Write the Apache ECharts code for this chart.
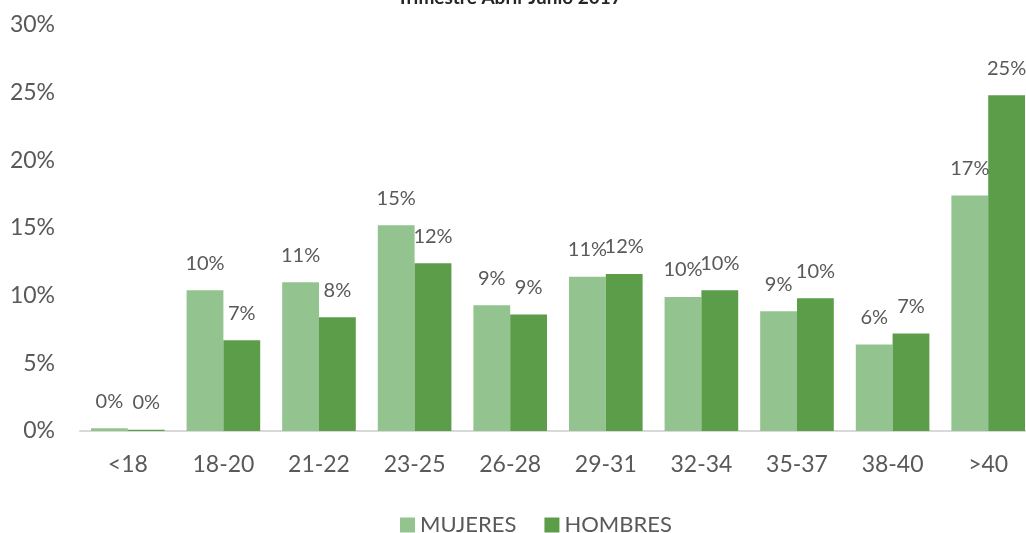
<!DOCTYPE html>
<html>
<head>
<meta charset="utf-8">
<script src="https://cdn.jsdelivr.net/npm/echarts@6/dist/echarts.min.js"></script>
<style>html,body{margin:0;padding:0;background:#fff;overflow:hidden;}#c{width:1040px;height:533px;}</style>
</head>
<body>
<div id="c"></div>
<script>
const categories = ['<18','18-20','21-22','23-25','26-28','29-31','32-34','35-37','38-40','>40'];
const mujeres = [0.002,0.104,0.110,0.152,0.093,0.114,0.099,0.0885,0.064,0.174];
const hombres = [0.001,0.067,0.084,0.124,0.086,0.116,0.104,0.098,0.072,0.248];
const titleText = 'Trimestre Abril-Junio 2017';
const FONT = 'Lato, "Open Sans", sans-serif';

const chart = echarts.init(document.getElementById('c'), null, {renderer:'canvas'});
const pct = v => Math.round(v*100) + '%';
const lbl = {show:true, position:'top', distance:17, color:'#595959', fontSize:20, fontFamily:FONT, formatter:p=>pct(p.value)};
chart.setOption({
  animation:false,
  title:{text:titleText, left:392, top:-17, textStyle:{fontSize:19, fontWeight:'bold', color:'#262626', fontFamily:FONT}},
  grid:{left:80, right:4, top:25, bottom:102, containLabel:false},
  legend:{bottom:-8, left:395, itemWidth:15, itemHeight:15, itemGap:28, icon:'rect',
    textStyle:{color:'#595959', fontSize:22, fontFamily:FONT}},
  xAxis:{type:'category', data:categories,
    axisLine:{lineStyle:{color:'#D9D9D9', width:2}}, axisTick:{show:false},
    axisLabel:{color:'#595959', fontSize:23, fontFamily:FONT, margin:22}},
  yAxis:{type:'value', min:0, max:0.30, interval:0.05,
    axisLabel:{color:'#595959', fontSize:23, fontFamily:FONT, margin:25, formatter:v=>Math.round(v*100)+'%'},
    splitLine:{show:false}, axisLine:{show:false}, axisTick:{show:false}},
  series:[
    {name:'MUJERES', type:'bar', data:mujeres, barGap:'0%', barCategoryGap:'23%', itemStyle:{color:'#93C38E'}, label:lbl},
    {name:'HOMBRES', type:'bar', data:hombres, itemStyle:{color:'#5C9D4A'}, label:lbl}
  ]
});
</script>
</body>
</html>
